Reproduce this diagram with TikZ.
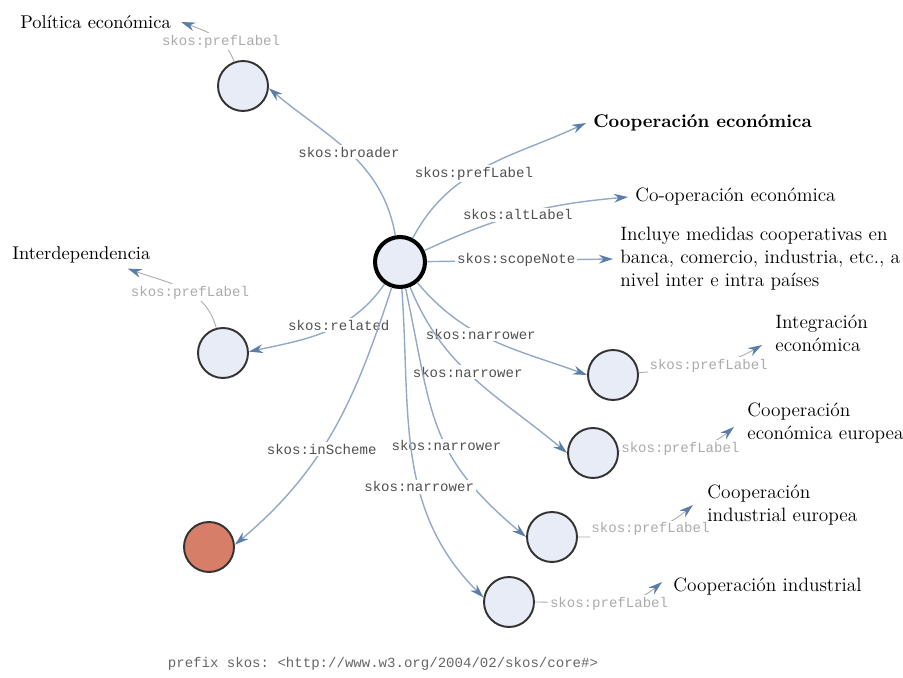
\documentclass[tikz,border=0pt]{standalone}
\usepackage{fontspec}
\setmonofont{Liberation Mono}
\usetikzlibrary{arrows.meta, positioning, calc}

\definecolor{edgeblue}{HTML}{93A9C6}
\definecolor{headblue}{HTML}{5B7DAA}
\definecolor{nodefill}{HTML}{E8ECF6}
\definecolor{schemered}{HTML}{D77E69}
\definecolor{lblgray}{HTML}{505050}
\definecolor{palegray}{HTML}{ABABAB}

\tikzstyle{concept} = [circle, minimum size=1cm, inner sep=0pt, draw=black!80, line width=1.1pt, fill=nodefill]
\tikzstyle{maincon} = [concept, draw=black, line width=2.3pt]
\tikzstyle{scheme} = [concept, fill=schemered]
\tikzstyle{term} = [font=\fontsize{11}{13}\selectfont, inner sep=4pt, anchor=west, align=left]
\tikzstyle{prop} = [font=\ttfamily\fontsize{8}{9}\selectfont, text=lblgray, fill=white, inner sep=1pt]
\tikzstyle{faint} = [prop, text=palegray]
\tikzstyle{arrow} = [line width=0.8pt, draw=edgeblue, -{Stealth[length=8pt, width=5pt, color=headblue]}]
\tikzstyle{thinarrow} = [arrow, line width=0.5pt, draw=palegray]

\begin{document}
\begin{tikzpicture}[x=0.02cm, y=0.02cm]
\useasboundingbox (0,0) rectangle (903,-678);

% concepts
\node (coop) [maincon] at (400,-262) {};
\node (broad) [concept] at (243,-86) {};
\node (rel) [concept] at (223,-353) {};
\node (sch) [scheme] at (209,-547) {};
\node (nar1) [concept] at (613,-375) {};
\node (nar2) [concept] at (593,-453) {};
\node (nar3) [concept] at (552,-537) {};
\node (nar4) [concept] at (509,-602) {};

% literals
\node (politica) [term, font=\fontsize{10.5}{13}\selectfont] at (13,-22) {Política económica};
\node (preflbl) [term, font=\bfseries\fontsize{10.5}{13}\selectfont] at (586,-123) {Cooperación económica};
\node (altlbl) [term] at (628,-197) {Co-operación económica};
\node (note) [term] at (613,-259) {Incluye medidas cooperativas en\\banca, comercio, industria, etc., a\\nivel inter e intra países};
\node (interdep) [term, font=\fontsize{10.5}{13}\selectfont] at (5,-255) {Interdependencia};
\node (integ) [term] at (768,-333) {Integración\\económica};
\node (coopeu) [term] at (740,-423) {Cooperación\\económica europea};
\node (indeu) [term] at (700,-505) {Cooperación\\industrial europea};
\node (coopind) [term] at (666,-587) {Cooperación industrial};
\node (prefix) [prop, text=black!60, fill=none] at (383,-664) {prefix skos: <http://www.w3.org/2004/02/skos/core\#>};

% properties of the main concept
\draw [arrow] (coop) to[out=100, in=-40] node[prop, pos=0.5] {skos:broader} (broad.-5);
\draw [arrow] (coop) to[out=62, in=205] node[prop, pos=0.43] {skos:prefLabel} (preflbl.west);
\draw [arrow] (coop) to[out=25, in=185] node[prop, pos=0.47] {skos:altLabel} (altlbl.west);
\draw [arrow] (coop) -- node[prop, pos=0.48] {skos:scopeNote} (note.west);
\draw [arrow] (coop) to[out=235, in=12] node[prop, pos=0.4] {skos:related} (rel.3);
\draw [arrow] (coop) to[out=252, in=40] node[prop, pos=0.58] {skos:inScheme} (sch.5);
\draw [arrow] (coop) to[out=-50, in=160] node[prop, pos=0.42] {skos:narrower} (nar1.180);
\draw [arrow] (coop) to[out=-68, in=140] node[prop, pos=0.45] {skos:narrower} (nar2.180);
\draw [arrow] (coop) to[out=-78, in=140, looseness=1.2] node[prop, pos=0.58] {skos:narrower} (nar3.180);
\draw [arrow] (coop) to[out=-86, in=135] node[prop, pos=0.6] {skos:narrower} (nar4.170);

% labels of the related concepts
\draw [thinarrow] (broad) to[out=110, in=-20] node[faint, pos=0.35] {skos:prefLabel} ([shift={(3,0)}]politica.east);
\draw [thinarrow] (rel) to[out=105, in=-20] node[faint, pos=0.42] {skos:prefLabel} ([shift={(-30,2)}]interdep.south east);
\draw [thinarrow] (nar1) to[out=5, in=210] node[faint, pos=0.55] {skos:prefLabel} ([shift={(-6,-12)}]integ.west);
\draw [thinarrow] (nar2) to[out=5, in=220] node[faint, pos=0.5] {skos:prefLabel} ([shift={(-6,-4)}]coopeu.west);
\draw [thinarrow] (nar3) to[out=0, in=220] node[faint, pos=0.6] {skos:prefLabel} ([shift={(-7,0)}]indeu.west);
\draw [thinarrow] (nar4) to[out=0, in=220] node[faint, pos=0.55] {skos:prefLabel} ([shift={(-4,5)}]coopind.west);
\end{tikzpicture}
\end{document}
